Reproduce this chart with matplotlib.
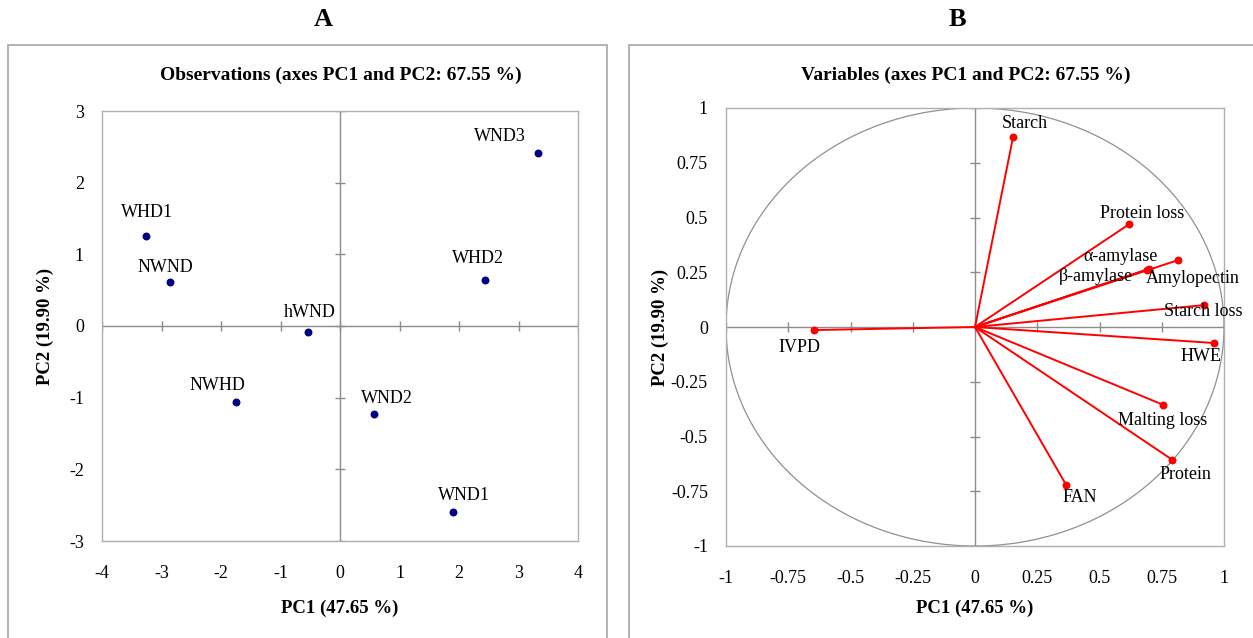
import numpy as np
import matplotlib
matplotlib.use("Agg")
import matplotlib.pyplot as plt
from matplotlib.patches import Rectangle

plt.rcParams['font.family'] = ['Liberation Serif', 'DejaVu Serif']

# ---- data ----
obs_names = ["WHD1", "NWND", "hWND", "NWHD", "WND2", "WND1", "WHD2", "WND3"]
obs_pc1 = [-3.26, -2.85, -0.53, -1.75, 0.57, 1.90, 2.43, 3.32]
obs_pc2 = [1.26, 0.62, -0.08, -1.06, -1.23, -2.60, 0.64, 2.41]

var_names = ["Starch", "Protein loss", "α-amylase", "β-amylase", "Amylopectin",
             "Starch loss", "HWE", "Malting loss", "Protein", "FAN", "IVPD"]
var_pc1 = [0.153, 0.62, 0.817, 0.70, 0.69, 0.92, 0.958, 0.757, 0.793, 0.366, -0.648]
var_pc2 = [0.868, 0.47, 0.306, 0.265, 0.262, 0.10, -0.073, -0.356, -0.607, -0.721, -0.014]

a_xticks = [-4, -3, -2, -1, 0, 1, 2, 3, 4]
a_yticks = [-3, -2, -1, 0, 1, 2, 3]
b_ticks = [-1, -0.75, -0.5, -0.25, 0, 0.25, 0.5, 0.75, 1]
b_ticklabels = ["-1", "-0.75", "-0.5", "-0.25", "0", "0.25", "0.5", "0.75", "1"]

title_a = "Observations (axes PC1 and PC2: 67.55 %)"
title_b = "Variables (axes PC1 and PC2: 67.55 %)"
xlabel = "PC1 (47.65 %)"
ylabel = "PC2 (19.90 %)"

# label offsets in pixels (dx, dy)
obs_off = [(1, 23), (-5, 14), (1, 19), (-18, 16), (13, 16), (11, 17), (-7, 22), (-38, 17)]
var_off = [(12, 13), (13, 11), (-58, 3), (-53, -8), (46, -9), (-1, -6), (-13, -14), (-1, -16), (13, -15), (14, -13), (-14, -17)]

W, H = 1253, 638
fig = plt.figure(figsize=(W / 100, H / 100), dpi=100)

gray = "#a6a6a6"
line_gray = "#8c8c8c"

# outer panel boxes
fig.patches.append(Rectangle((8 / W, -0.05), (607 - 8) / W, 1.05 - 45 / H, transform=fig.transFigure,
                             fill=False, edgecolor=gray, lw=1.2))
fig.patches.append(Rectangle((629 / W, -0.05), 0.5, 1.05 - 45 / H, transform=fig.transFigure,
                             fill=False, edgecolor=gray, lw=1.2))

fig.text(323 / W, 1 - 20 / H, "A", ha="center", va="center", fontsize=19, fontweight="bold")
fig.text(957 / W, 1 - 20 / H, "B", ha="center", va="center", fontsize=19, fontweight="bold")


def setup(ax, xlim, ylim, xt, yt, xtl, ytl, xlab_y, ylab_x):
    ax.set_xlim(*xlim)
    ax.set_ylim(*ylim)
    for s in ax.spines.values():
        s.set_color("#b0b0b0")
        s.set_linewidth(1.0)
    ax.set_xticks(xt)
    ax.set_yticks(yt)
    ax.set_xticklabels(xtl)
    ax.set_yticklabels(ytl)
    ax.tick_params(length=0, labelsize=13)
    ax.tick_params(axis="x", pad=17)
    ax.tick_params(axis="y", pad=13)
    ax.axhline(0, color=line_gray, lw=1.0, zorder=1)
    ax.axvline(0, color=line_gray, lw=1.0, zorder=1)
    # small tick marks along the centre lines
    ax.plot(xt, [0] * len(xt), ls="none", marker="|", ms=7, color=line_gray, mew=1.0, zorder=1)
    ax.plot([0] * len(yt), yt, ls="none", marker="_", ms=7, color=line_gray, mew=1.0, zorder=1)
    ax.set_xlabel(xlabel, fontsize=13.5, fontweight="bold")
    ax.set_ylabel(ylabel, fontsize=13.5, fontweight="bold")
    ax.xaxis.set_label_coords(0.5, xlab_y)
    ax.yaxis.set_label_coords(ylab_x, 0.5)


# ---- Panel A ----
a_l, a_r, a_t, a_b = 102, 578, 111, 541
axA = fig.add_axes([a_l / W, 1 - a_b / H, (a_r - a_l) / W, (a_b - a_t) / H])
setup(axA, (-4, 4), (-3, 3), a_xticks, a_yticks,
      [str(v) for v in a_xticks], [str(v) for v in a_yticks],
      -(608 - a_b) / (a_b - a_t), -(a_l - 45) / (a_r - a_l))
axA.xaxis.label.set_va("center")
axA.yaxis.label.set_va("center")
axA.scatter(obs_pc1, obs_pc2, s=22, color="#000080", zorder=3)
for n, x, y, (dx, dy) in zip(obs_names, obs_pc1, obs_pc2, obs_off):
    axA.annotate(n, (x, y), xytext=(dx, dy), textcoords="offset pixels",
                 ha="center", va="center", fontsize=13)
fig.text(341 / W, 1 - 75 / H, title_a, ha="center", va="center", fontsize=14, fontweight="bold")

# ---- Panel B ----
b_l, b_r, b_t, b_b = 726, 1224, 108, 546
axB = fig.add_axes([b_l / W, 1 - b_b / H, (b_r - b_l) / W, (b_b - b_t) / H])
setup(axB, (-1, 1), (-1, 1), b_ticks, b_ticks, b_ticklabels, b_ticklabels,
      -(608 - b_b) / (b_b - b_t), -(b_l - 660) / (b_r - b_l))
axB.xaxis.label.set_va("center")
axB.yaxis.label.set_va("center")
t = np.linspace(0, 2 * np.pi, 400)
axB.plot(np.cos(t), np.sin(t), color="#909090", lw=0.9, zorder=1)
for x, y in zip(var_pc1, var_pc2):
    axB.plot([0, x], [0, y], color="#ff0000", lw=1.4, zorder=2)
axB.scatter(var_pc1, var_pc2, s=22, color="#ff0000", zorder=3)
for n, x, y, (dx, dy) in zip(var_names, var_pc1, var_pc2, var_off):
    axB.annotate(n, (x, y), xytext=(dx, dy), textcoords="offset pixels",
                 ha="center", va="center", fontsize=13)
fig.text(966 / W, 1 - 75 / H, title_b, ha="center", va="center", fontsize=14, fontweight="bold")

fig.savefig("out.png", dpi=100)
